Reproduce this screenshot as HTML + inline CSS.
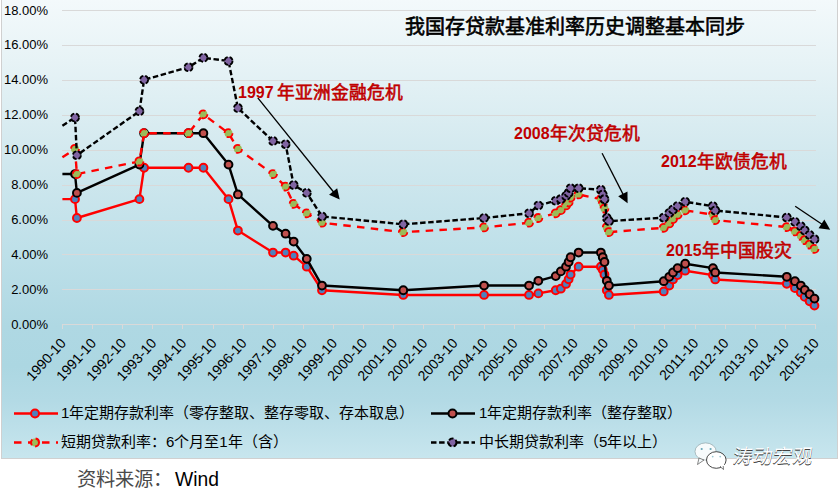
<!DOCTYPE html>
<html lang="zh-CN"><head><meta charset="utf-8">
<style>
html,body{margin:0;padding:0;width:839px;height:493px;overflow:hidden;background:#fff;}
body{position:relative;font-family:"Liberation Sans",sans-serif;}
#chart{position:absolute;left:1px;top:-20px;width:837px;height:479px;border:1px solid #d0d0d0;box-sizing:border-box;
 background:linear-gradient(to bottom,#f8fcfd 0px,#f3f9fb 20px,#e7f3f6 80px,#d3e9ef 170px,#bee0e9 270px,#afd8e3 345px,#acd7e2 385px,#b3dae5 420px,#c8e6ee 479px);}
svg{position:absolute;left:0;top:0;}
.g{stroke:#d9d9d9;stroke-width:1;}
.yl{position:absolute;right:791px;font-size:13px;line-height:16px;color:#000;white-space:nowrap;}
.xl{position:absolute;top:325px;font-size:13px;line-height:14px;color:#000;white-space:nowrap;transform-origin:100% 0;}
.title{position:absolute;left:405px;top:15px;font-size:20px;font-weight:normal;-webkit-text-stroke:0.6px #000;line-height:24px;color:#000;white-space:nowrap;}
.ann{position:absolute;color:#c00000;font-weight:bold;white-space:nowrap;line-height:20px;}
.ann .n{font-size:16px;position:relative;top:-1px;}
.ann .c{font-size:17.8px;margin-left:0.5px;font-weight:normal;-webkit-text-stroke:0.6px #c00000;}
.leg{position:absolute;font-size:15px;line-height:18px;color:#000;white-space:nowrap;}
.src{position:absolute;left:77px;top:468px;font-size:19.3px;line-height:24px;color:#4a4a4a;white-space:nowrap;}
.src b{font-weight:normal;color:#000;margin-left:3px;}
.wm{position:absolute;left:731px;top:445px;font-size:19.5px;line-height:22px;color:#fff;white-space:nowrap;transform:skewX(-9deg);transform-origin:0 100%;
 text-shadow:1px 1px 0 #444,0.5px 0.5px 0 #666;}
</style></head><body>
<div id="chart"></div>
<svg width="839" height="493" viewBox="0 0 839 493">
<line x1="62" y1="10.5" x2="816" y2="10.5" class="g"/>
<line x1="62" y1="45.5" x2="816" y2="45.5" class="g"/>
<line x1="62" y1="80.5" x2="816" y2="80.5" class="g"/>
<line x1="62" y1="115.5" x2="816" y2="115.5" class="g"/>
<line x1="62" y1="150.5" x2="816" y2="150.5" class="g"/>
<line x1="62" y1="185.5" x2="816" y2="185.5" class="g"/>
<line x1="62" y1="220.5" x2="816" y2="220.5" class="g"/>
<line x1="62" y1="254.5" x2="816" y2="254.5" class="g"/>
<line x1="62" y1="289.5" x2="816" y2="289.5" class="g"/>
<line x1="62" y1="324.5" x2="816" y2="324.5" class="g"/>
<line x1="62.5" y1="324.5" x2="62.5" y2="329" class="g"/>
<line x1="92.5" y1="324.5" x2="92.5" y2="329" class="g"/>
<line x1="122.5" y1="324.5" x2="122.5" y2="329" class="g"/>
<line x1="152.5" y1="324.5" x2="152.5" y2="329" class="g"/>
<line x1="182.5" y1="324.5" x2="182.5" y2="329" class="g"/>
<line x1="213.5" y1="324.5" x2="213.5" y2="329" class="g"/>
<line x1="243.5" y1="324.5" x2="243.5" y2="329" class="g"/>
<line x1="273.5" y1="324.5" x2="273.5" y2="329" class="g"/>
<line x1="303.5" y1="324.5" x2="303.5" y2="329" class="g"/>
<line x1="333.5" y1="324.5" x2="333.5" y2="329" class="g"/>
<line x1="363.5" y1="324.5" x2="363.5" y2="329" class="g"/>
<line x1="393.5" y1="324.5" x2="393.5" y2="329" class="g"/>
<line x1="423.5" y1="324.5" x2="423.5" y2="329" class="g"/>
<line x1="454.5" y1="324.5" x2="454.5" y2="329" class="g"/>
<line x1="484.5" y1="324.5" x2="484.5" y2="329" class="g"/>
<line x1="514.5" y1="324.5" x2="514.5" y2="329" class="g"/>
<line x1="544.5" y1="324.5" x2="544.5" y2="329" class="g"/>
<line x1="574.5" y1="324.5" x2="574.5" y2="329" class="g"/>
<line x1="604.5" y1="324.5" x2="604.5" y2="329" class="g"/>
<line x1="634.5" y1="324.5" x2="634.5" y2="329" class="g"/>
<line x1="664.5" y1="324.5" x2="664.5" y2="329" class="g"/>
<line x1="695.5" y1="324.5" x2="695.5" y2="329" class="g"/>
<line x1="725.5" y1="324.5" x2="725.5" y2="329" class="g"/>
<line x1="755.5" y1="324.5" x2="755.5" y2="329" class="g"/>
<line x1="785.5" y1="324.5" x2="785.5" y2="329" class="g"/>
<line x1="815.5" y1="324.5" x2="815.5" y2="329" class="g"/>
<path d="M62.4,199.16 L75,199.16 L76.9,218.01 L139.41,199.16 L144.11,167.75 L188.5,167.75 L203.4,167.75 L228.52,199.16 L237.91,230.57 L272.99,252.56 L285.59,252.56 L293.66,255.7 L306.76,266.69 L321.99,290.25 L403.28,294.96 L484.07,294.96 L529.03,294.96 L538.34,293.39 L555.72,290.25 L560.82,288.68 L566.01,283.97 L568.65,279.26 L570.62,274.54 L578.61,266.69 L600.85,266.69 L602.74,269.83 L604.47,274.54 L606.78,290.25 L608.92,294.96 L663.76,291.47 L669.28,285.54 L672.99,279.43 L677.6,275.07 L685.18,270.71 L712.93,275.07 L715.24,279.43 L786.8,283.79 L794.96,288.16 L800.8,292.52 L804.76,296.88 L809.61,301.24 L814.47,305.61" fill="none" stroke="#ff0000" stroke-width="2.4" stroke-linejoin="round"/>
<circle cx="75" cy="199.16" r="3.9" fill="#4f81bd" stroke="#ff0000" stroke-width="2.0"/>
<circle cx="76.9" cy="218.01" r="3.9" fill="#4f81bd" stroke="#ff0000" stroke-width="2.0"/>
<circle cx="139.41" cy="199.16" r="3.9" fill="#4f81bd" stroke="#ff0000" stroke-width="2.0"/>
<circle cx="144.11" cy="167.75" r="3.9" fill="#4f81bd" stroke="#ff0000" stroke-width="2.0"/>
<circle cx="188.5" cy="167.75" r="3.9" fill="#4f81bd" stroke="#ff0000" stroke-width="2.0"/>
<circle cx="203.4" cy="167.75" r="3.9" fill="#4f81bd" stroke="#ff0000" stroke-width="2.0"/>
<circle cx="228.52" cy="199.16" r="3.9" fill="#4f81bd" stroke="#ff0000" stroke-width="2.0"/>
<circle cx="237.91" cy="230.57" r="3.9" fill="#4f81bd" stroke="#ff0000" stroke-width="2.0"/>
<circle cx="272.99" cy="252.56" r="3.9" fill="#4f81bd" stroke="#ff0000" stroke-width="2.0"/>
<circle cx="285.59" cy="252.56" r="3.9" fill="#4f81bd" stroke="#ff0000" stroke-width="2.0"/>
<circle cx="293.66" cy="255.7" r="3.9" fill="#4f81bd" stroke="#ff0000" stroke-width="2.0"/>
<circle cx="306.76" cy="266.69" r="3.9" fill="#4f81bd" stroke="#ff0000" stroke-width="2.0"/>
<circle cx="321.99" cy="290.25" r="3.9" fill="#4f81bd" stroke="#ff0000" stroke-width="2.0"/>
<circle cx="403.28" cy="294.96" r="3.9" fill="#4f81bd" stroke="#ff0000" stroke-width="2.0"/>
<circle cx="484.07" cy="294.96" r="3.9" fill="#4f81bd" stroke="#ff0000" stroke-width="2.0"/>
<circle cx="529.03" cy="294.96" r="3.9" fill="#4f81bd" stroke="#ff0000" stroke-width="2.0"/>
<circle cx="538.34" cy="293.39" r="3.9" fill="#4f81bd" stroke="#ff0000" stroke-width="2.0"/>
<circle cx="555.72" cy="290.25" r="3.9" fill="#4f81bd" stroke="#ff0000" stroke-width="2.0"/>
<circle cx="560.82" cy="288.68" r="3.9" fill="#4f81bd" stroke="#ff0000" stroke-width="2.0"/>
<circle cx="566.01" cy="283.97" r="3.9" fill="#4f81bd" stroke="#ff0000" stroke-width="2.0"/>
<circle cx="568.65" cy="279.26" r="3.9" fill="#4f81bd" stroke="#ff0000" stroke-width="2.0"/>
<circle cx="570.62" cy="274.54" r="3.9" fill="#4f81bd" stroke="#ff0000" stroke-width="2.0"/>
<circle cx="578.61" cy="266.69" r="3.9" fill="#4f81bd" stroke="#ff0000" stroke-width="2.0"/>
<circle cx="600.85" cy="266.69" r="3.9" fill="#4f81bd" stroke="#ff0000" stroke-width="2.0"/>
<circle cx="602.74" cy="269.83" r="3.9" fill="#4f81bd" stroke="#ff0000" stroke-width="2.0"/>
<circle cx="604.47" cy="274.54" r="3.9" fill="#4f81bd" stroke="#ff0000" stroke-width="2.0"/>
<circle cx="606.78" cy="290.25" r="3.9" fill="#4f81bd" stroke="#ff0000" stroke-width="2.0"/>
<circle cx="608.92" cy="294.96" r="3.9" fill="#4f81bd" stroke="#ff0000" stroke-width="2.0"/>
<circle cx="663.76" cy="291.47" r="3.9" fill="#4f81bd" stroke="#ff0000" stroke-width="2.0"/>
<circle cx="669.28" cy="285.54" r="3.9" fill="#4f81bd" stroke="#ff0000" stroke-width="2.0"/>
<circle cx="672.99" cy="279.43" r="3.9" fill="#4f81bd" stroke="#ff0000" stroke-width="2.0"/>
<circle cx="677.6" cy="275.07" r="3.9" fill="#4f81bd" stroke="#ff0000" stroke-width="2.0"/>
<circle cx="685.18" cy="270.71" r="3.9" fill="#4f81bd" stroke="#ff0000" stroke-width="2.0"/>
<circle cx="712.93" cy="275.07" r="3.9" fill="#4f81bd" stroke="#ff0000" stroke-width="2.0"/>
<circle cx="715.24" cy="279.43" r="3.9" fill="#4f81bd" stroke="#ff0000" stroke-width="2.0"/>
<circle cx="786.8" cy="283.79" r="3.9" fill="#4f81bd" stroke="#ff0000" stroke-width="2.0"/>
<circle cx="794.96" cy="288.16" r="3.9" fill="#4f81bd" stroke="#ff0000" stroke-width="2.0"/>
<circle cx="800.8" cy="292.52" r="3.9" fill="#4f81bd" stroke="#ff0000" stroke-width="2.0"/>
<circle cx="804.76" cy="296.88" r="3.9" fill="#4f81bd" stroke="#ff0000" stroke-width="2.0"/>
<circle cx="809.61" cy="301.24" r="3.9" fill="#4f81bd" stroke="#ff0000" stroke-width="2.0"/>
<circle cx="814.47" cy="305.61" r="3.9" fill="#4f81bd" stroke="#ff0000" stroke-width="2.0"/>
<path d="M62.4,174.03 L75,174.03 L76.9,192.88 L139.41,164.61 L144.11,133.2 L188.5,133.2 L203.4,133.2 L228.52,164.61 L237.91,194.45 L272.99,225.86 L285.59,233.71 L293.66,241.56 L306.76,258.84 L321.99,285.54 L403.28,290.25 L484.07,285.54 L529.03,285.54 L538.34,280.83 L555.72,276.11 L560.82,271.4 L566.01,266.69 L568.65,261.98 L570.62,257.27 L578.61,252.56 L600.85,252.56 L602.74,257.27 L604.47,261.98 L606.78,280.83 L608.92,285.54 L663.76,281.18 L669.28,276.81 L672.99,272.45 L677.6,268.09 L685.18,263.73 L712.93,268.09 L715.24,272.45 L786.8,276.81 L794.96,281.18 L800.8,285.54 L804.76,289.9 L809.61,294.26 L814.47,298.62" fill="none" stroke="#000000" stroke-width="2.4" stroke-linejoin="round"/>
<circle cx="75" cy="174.03" r="3.9" fill="#c0504d" stroke="#000000" stroke-width="2.0"/>
<circle cx="76.9" cy="192.88" r="3.9" fill="#c0504d" stroke="#000000" stroke-width="2.0"/>
<circle cx="139.41" cy="164.61" r="3.9" fill="#c0504d" stroke="#000000" stroke-width="2.0"/>
<circle cx="144.11" cy="133.2" r="3.9" fill="#c0504d" stroke="#000000" stroke-width="2.0"/>
<circle cx="188.5" cy="133.2" r="3.9" fill="#c0504d" stroke="#000000" stroke-width="2.0"/>
<circle cx="203.4" cy="133.2" r="3.9" fill="#c0504d" stroke="#000000" stroke-width="2.0"/>
<circle cx="228.52" cy="164.61" r="3.9" fill="#c0504d" stroke="#000000" stroke-width="2.0"/>
<circle cx="237.91" cy="194.45" r="3.9" fill="#c0504d" stroke="#000000" stroke-width="2.0"/>
<circle cx="272.99" cy="225.86" r="3.9" fill="#c0504d" stroke="#000000" stroke-width="2.0"/>
<circle cx="285.59" cy="233.71" r="3.9" fill="#c0504d" stroke="#000000" stroke-width="2.0"/>
<circle cx="293.66" cy="241.56" r="3.9" fill="#c0504d" stroke="#000000" stroke-width="2.0"/>
<circle cx="306.76" cy="258.84" r="3.9" fill="#c0504d" stroke="#000000" stroke-width="2.0"/>
<circle cx="321.99" cy="285.54" r="3.9" fill="#c0504d" stroke="#000000" stroke-width="2.0"/>
<circle cx="403.28" cy="290.25" r="3.9" fill="#c0504d" stroke="#000000" stroke-width="2.0"/>
<circle cx="484.07" cy="285.54" r="3.9" fill="#c0504d" stroke="#000000" stroke-width="2.0"/>
<circle cx="529.03" cy="285.54" r="3.9" fill="#c0504d" stroke="#000000" stroke-width="2.0"/>
<circle cx="538.34" cy="280.83" r="3.9" fill="#c0504d" stroke="#000000" stroke-width="2.0"/>
<circle cx="555.72" cy="276.11" r="3.9" fill="#c0504d" stroke="#000000" stroke-width="2.0"/>
<circle cx="560.82" cy="271.4" r="3.9" fill="#c0504d" stroke="#000000" stroke-width="2.0"/>
<circle cx="566.01" cy="266.69" r="3.9" fill="#c0504d" stroke="#000000" stroke-width="2.0"/>
<circle cx="568.65" cy="261.98" r="3.9" fill="#c0504d" stroke="#000000" stroke-width="2.0"/>
<circle cx="570.62" cy="257.27" r="3.9" fill="#c0504d" stroke="#000000" stroke-width="2.0"/>
<circle cx="578.61" cy="252.56" r="3.9" fill="#c0504d" stroke="#000000" stroke-width="2.0"/>
<circle cx="600.85" cy="252.56" r="3.9" fill="#c0504d" stroke="#000000" stroke-width="2.0"/>
<circle cx="602.74" cy="257.27" r="3.9" fill="#c0504d" stroke="#000000" stroke-width="2.0"/>
<circle cx="604.47" cy="261.98" r="3.9" fill="#c0504d" stroke="#000000" stroke-width="2.0"/>
<circle cx="606.78" cy="280.83" r="3.9" fill="#c0504d" stroke="#000000" stroke-width="2.0"/>
<circle cx="608.92" cy="285.54" r="3.9" fill="#c0504d" stroke="#000000" stroke-width="2.0"/>
<circle cx="663.76" cy="281.18" r="3.9" fill="#c0504d" stroke="#000000" stroke-width="2.0"/>
<circle cx="669.28" cy="276.81" r="3.9" fill="#c0504d" stroke="#000000" stroke-width="2.0"/>
<circle cx="672.99" cy="272.45" r="3.9" fill="#c0504d" stroke="#000000" stroke-width="2.0"/>
<circle cx="677.6" cy="268.09" r="3.9" fill="#c0504d" stroke="#000000" stroke-width="2.0"/>
<circle cx="685.18" cy="263.73" r="3.9" fill="#c0504d" stroke="#000000" stroke-width="2.0"/>
<circle cx="712.93" cy="268.09" r="3.9" fill="#c0504d" stroke="#000000" stroke-width="2.0"/>
<circle cx="715.24" cy="272.45" r="3.9" fill="#c0504d" stroke="#000000" stroke-width="2.0"/>
<circle cx="786.8" cy="276.81" r="3.9" fill="#c0504d" stroke="#000000" stroke-width="2.0"/>
<circle cx="794.96" cy="281.18" r="3.9" fill="#c0504d" stroke="#000000" stroke-width="2.0"/>
<circle cx="800.8" cy="285.54" r="3.9" fill="#c0504d" stroke="#000000" stroke-width="2.0"/>
<circle cx="804.76" cy="289.9" r="3.9" fill="#c0504d" stroke="#000000" stroke-width="2.0"/>
<circle cx="809.61" cy="294.26" r="3.9" fill="#c0504d" stroke="#000000" stroke-width="2.0"/>
<circle cx="814.47" cy="298.62" r="3.9" fill="#c0504d" stroke="#000000" stroke-width="2.0"/>
<path d="M62.4,157.3 L75,148.9 L76.9,174.03 L139.41,161.47 L144.11,133.2 L188.5,133.2 L203.4,114.35 L228.52,133.2 L237.91,148.9 L272.99,174.03 L285.59,186.6 L293.66,203.87 L306.76,213.29 L321.99,222.72 L403.28,232.14 L484.07,227.43 L529.03,222.72 L538.34,218.01 L555.72,213.29 L560.82,210.15 L566.01,205.44 L568.65,202.3 L570.62,197.59 L578.61,194.45 L600.85,199.16 L602.74,203.87 L604.47,208.58 L606.78,227.43 L608.92,232.14 L663.76,227.78 L669.28,223.42 L672.99,219.05 L677.6,214.69 L685.18,210.33 L712.93,214.69 L715.24,220.1 L786.8,227.08 L794.96,231.44 L800.8,235.81 L804.76,240.17 L809.61,244.53 L814.47,248.89" fill="none" stroke="#ff0000" stroke-width="2.4" stroke-linejoin="round" stroke-dasharray="7.5 6.3"/>
<circle cx="75" cy="148.9" r="4.0" fill="#9bbb59" stroke="#ff0000" stroke-width="1.8" stroke-dasharray="8 4.5"/>
<circle cx="76.9" cy="174.03" r="4.0" fill="#9bbb59" stroke="#ff0000" stroke-width="1.8" stroke-dasharray="8 4.5"/>
<circle cx="139.41" cy="161.47" r="4.0" fill="#9bbb59" stroke="#ff0000" stroke-width="1.8" stroke-dasharray="8 4.5"/>
<circle cx="144.11" cy="133.2" r="4.0" fill="#9bbb59" stroke="#ff0000" stroke-width="1.8" stroke-dasharray="8 4.5"/>
<circle cx="188.5" cy="133.2" r="4.0" fill="#9bbb59" stroke="#ff0000" stroke-width="1.8" stroke-dasharray="8 4.5"/>
<circle cx="203.4" cy="114.35" r="4.0" fill="#9bbb59" stroke="#ff0000" stroke-width="1.8" stroke-dasharray="8 4.5"/>
<circle cx="228.52" cy="133.2" r="4.0" fill="#9bbb59" stroke="#ff0000" stroke-width="1.8" stroke-dasharray="8 4.5"/>
<circle cx="237.91" cy="148.9" r="4.0" fill="#9bbb59" stroke="#ff0000" stroke-width="1.8" stroke-dasharray="8 4.5"/>
<circle cx="272.99" cy="174.03" r="4.0" fill="#9bbb59" stroke="#ff0000" stroke-width="1.8" stroke-dasharray="8 4.5"/>
<circle cx="285.59" cy="186.6" r="4.0" fill="#9bbb59" stroke="#ff0000" stroke-width="1.8" stroke-dasharray="8 4.5"/>
<circle cx="293.66" cy="203.87" r="4.0" fill="#9bbb59" stroke="#ff0000" stroke-width="1.8" stroke-dasharray="8 4.5"/>
<circle cx="306.76" cy="213.29" r="4.0" fill="#9bbb59" stroke="#ff0000" stroke-width="1.8" stroke-dasharray="8 4.5"/>
<circle cx="321.99" cy="222.72" r="4.0" fill="#9bbb59" stroke="#ff0000" stroke-width="1.8" stroke-dasharray="8 4.5"/>
<circle cx="403.28" cy="232.14" r="4.0" fill="#9bbb59" stroke="#ff0000" stroke-width="1.8" stroke-dasharray="8 4.5"/>
<circle cx="484.07" cy="227.43" r="4.0" fill="#9bbb59" stroke="#ff0000" stroke-width="1.8" stroke-dasharray="8 4.5"/>
<circle cx="529.03" cy="222.72" r="4.0" fill="#9bbb59" stroke="#ff0000" stroke-width="1.8" stroke-dasharray="8 4.5"/>
<circle cx="538.34" cy="218.01" r="4.0" fill="#9bbb59" stroke="#ff0000" stroke-width="1.8" stroke-dasharray="8 4.5"/>
<circle cx="555.72" cy="213.29" r="4.0" fill="#9bbb59" stroke="#ff0000" stroke-width="1.8" stroke-dasharray="8 4.5"/>
<circle cx="560.82" cy="210.15" r="4.0" fill="#9bbb59" stroke="#ff0000" stroke-width="1.8" stroke-dasharray="8 4.5"/>
<circle cx="566.01" cy="205.44" r="4.0" fill="#9bbb59" stroke="#ff0000" stroke-width="1.8" stroke-dasharray="8 4.5"/>
<circle cx="568.65" cy="202.3" r="4.0" fill="#9bbb59" stroke="#ff0000" stroke-width="1.8" stroke-dasharray="8 4.5"/>
<circle cx="570.62" cy="197.59" r="4.0" fill="#9bbb59" stroke="#ff0000" stroke-width="1.8" stroke-dasharray="8 4.5"/>
<circle cx="578.61" cy="194.45" r="4.0" fill="#9bbb59" stroke="#ff0000" stroke-width="1.8" stroke-dasharray="8 4.5"/>
<circle cx="600.85" cy="199.16" r="4.0" fill="#9bbb59" stroke="#ff0000" stroke-width="1.8" stroke-dasharray="8 4.5"/>
<circle cx="602.74" cy="203.87" r="4.0" fill="#9bbb59" stroke="#ff0000" stroke-width="1.8" stroke-dasharray="8 4.5"/>
<circle cx="604.47" cy="208.58" r="4.0" fill="#9bbb59" stroke="#ff0000" stroke-width="1.8" stroke-dasharray="8 4.5"/>
<circle cx="606.78" cy="227.43" r="4.0" fill="#9bbb59" stroke="#ff0000" stroke-width="1.8" stroke-dasharray="8 4.5"/>
<circle cx="608.92" cy="232.14" r="4.0" fill="#9bbb59" stroke="#ff0000" stroke-width="1.8" stroke-dasharray="8 4.5"/>
<circle cx="663.76" cy="227.78" r="4.0" fill="#9bbb59" stroke="#ff0000" stroke-width="1.8" stroke-dasharray="8 4.5"/>
<circle cx="669.28" cy="223.42" r="4.0" fill="#9bbb59" stroke="#ff0000" stroke-width="1.8" stroke-dasharray="8 4.5"/>
<circle cx="672.99" cy="219.05" r="4.0" fill="#9bbb59" stroke="#ff0000" stroke-width="1.8" stroke-dasharray="8 4.5"/>
<circle cx="677.6" cy="214.69" r="4.0" fill="#9bbb59" stroke="#ff0000" stroke-width="1.8" stroke-dasharray="8 4.5"/>
<circle cx="685.18" cy="210.33" r="4.0" fill="#9bbb59" stroke="#ff0000" stroke-width="1.8" stroke-dasharray="8 4.5"/>
<circle cx="712.93" cy="214.69" r="4.0" fill="#9bbb59" stroke="#ff0000" stroke-width="1.8" stroke-dasharray="8 4.5"/>
<circle cx="715.24" cy="220.1" r="4.0" fill="#9bbb59" stroke="#ff0000" stroke-width="1.8" stroke-dasharray="8 4.5"/>
<circle cx="786.8" cy="227.08" r="4.0" fill="#9bbb59" stroke="#ff0000" stroke-width="1.8" stroke-dasharray="8 4.5"/>
<circle cx="794.96" cy="231.44" r="4.0" fill="#9bbb59" stroke="#ff0000" stroke-width="1.8" stroke-dasharray="8 4.5"/>
<circle cx="800.8" cy="235.81" r="4.0" fill="#9bbb59" stroke="#ff0000" stroke-width="1.8" stroke-dasharray="8 4.5"/>
<circle cx="804.76" cy="240.17" r="4.0" fill="#9bbb59" stroke="#ff0000" stroke-width="1.8" stroke-dasharray="8 4.5"/>
<circle cx="809.61" cy="244.53" r="4.0" fill="#9bbb59" stroke="#ff0000" stroke-width="1.8" stroke-dasharray="8 4.5"/>
<circle cx="814.47" cy="248.89" r="4.0" fill="#9bbb59" stroke="#ff0000" stroke-width="1.8" stroke-dasharray="8 4.5"/>
<path d="M62.4,125.7 L75,117.49 L76.9,155.19 L139.41,111.21 L144.11,79.8 L188.5,67.24 L203.4,57.81 L228.52,60.96 L237.91,108.07 L272.99,141.05 L285.59,144.19 L293.66,185.03 L306.76,192.88 L321.99,216.44 L403.28,224.29 L484.07,218.01 L529.03,213.29 L538.34,205.44 L555.72,200.73 L560.82,199.16 L566.01,196.02 L568.65,192.88 L570.62,188.17 L578.61,188.17 L600.85,189.74 L602.74,194.45 L604.47,199.16 L606.78,218.01 L608.92,221.15 L663.76,217.66 L669.28,213.12 L672.99,209.63 L677.6,206.14 L685.18,201.78 L712.93,206.14 L715.24,210.5 L786.8,217.48 L794.96,221.85 L800.8,226.21 L804.76,230.57 L809.61,234.93 L814.47,239.3" fill="none" stroke="#000000" stroke-width="2.4" stroke-linejoin="round" stroke-dasharray="5.5 2.6"/>
<circle cx="75" cy="117.49" r="4.0" fill="#8064a2" stroke="#000000" stroke-width="1.8" stroke-dasharray="4.5 2"/>
<circle cx="76.9" cy="155.19" r="4.0" fill="#8064a2" stroke="#000000" stroke-width="1.8" stroke-dasharray="4.5 2"/>
<circle cx="139.41" cy="111.21" r="4.0" fill="#8064a2" stroke="#000000" stroke-width="1.8" stroke-dasharray="4.5 2"/>
<circle cx="144.11" cy="79.8" r="4.0" fill="#8064a2" stroke="#000000" stroke-width="1.8" stroke-dasharray="4.5 2"/>
<circle cx="188.5" cy="67.24" r="4.0" fill="#8064a2" stroke="#000000" stroke-width="1.8" stroke-dasharray="4.5 2"/>
<circle cx="203.4" cy="57.81" r="4.0" fill="#8064a2" stroke="#000000" stroke-width="1.8" stroke-dasharray="4.5 2"/>
<circle cx="228.52" cy="60.96" r="4.0" fill="#8064a2" stroke="#000000" stroke-width="1.8" stroke-dasharray="4.5 2"/>
<circle cx="237.91" cy="108.07" r="4.0" fill="#8064a2" stroke="#000000" stroke-width="1.8" stroke-dasharray="4.5 2"/>
<circle cx="272.99" cy="141.05" r="4.0" fill="#8064a2" stroke="#000000" stroke-width="1.8" stroke-dasharray="4.5 2"/>
<circle cx="285.59" cy="144.19" r="4.0" fill="#8064a2" stroke="#000000" stroke-width="1.8" stroke-dasharray="4.5 2"/>
<circle cx="293.66" cy="185.03" r="4.0" fill="#8064a2" stroke="#000000" stroke-width="1.8" stroke-dasharray="4.5 2"/>
<circle cx="306.76" cy="192.88" r="4.0" fill="#8064a2" stroke="#000000" stroke-width="1.8" stroke-dasharray="4.5 2"/>
<circle cx="321.99" cy="216.44" r="4.0" fill="#8064a2" stroke="#000000" stroke-width="1.8" stroke-dasharray="4.5 2"/>
<circle cx="403.28" cy="224.29" r="4.0" fill="#8064a2" stroke="#000000" stroke-width="1.8" stroke-dasharray="4.5 2"/>
<circle cx="484.07" cy="218.01" r="4.0" fill="#8064a2" stroke="#000000" stroke-width="1.8" stroke-dasharray="4.5 2"/>
<circle cx="529.03" cy="213.29" r="4.0" fill="#8064a2" stroke="#000000" stroke-width="1.8" stroke-dasharray="4.5 2"/>
<circle cx="538.34" cy="205.44" r="4.0" fill="#8064a2" stroke="#000000" stroke-width="1.8" stroke-dasharray="4.5 2"/>
<circle cx="555.72" cy="200.73" r="4.0" fill="#8064a2" stroke="#000000" stroke-width="1.8" stroke-dasharray="4.5 2"/>
<circle cx="560.82" cy="199.16" r="4.0" fill="#8064a2" stroke="#000000" stroke-width="1.8" stroke-dasharray="4.5 2"/>
<circle cx="566.01" cy="196.02" r="4.0" fill="#8064a2" stroke="#000000" stroke-width="1.8" stroke-dasharray="4.5 2"/>
<circle cx="568.65" cy="192.88" r="4.0" fill="#8064a2" stroke="#000000" stroke-width="1.8" stroke-dasharray="4.5 2"/>
<circle cx="570.62" cy="188.17" r="4.0" fill="#8064a2" stroke="#000000" stroke-width="1.8" stroke-dasharray="4.5 2"/>
<circle cx="578.61" cy="188.17" r="4.0" fill="#8064a2" stroke="#000000" stroke-width="1.8" stroke-dasharray="4.5 2"/>
<circle cx="600.85" cy="189.74" r="4.0" fill="#8064a2" stroke="#000000" stroke-width="1.8" stroke-dasharray="4.5 2"/>
<circle cx="602.74" cy="194.45" r="4.0" fill="#8064a2" stroke="#000000" stroke-width="1.8" stroke-dasharray="4.5 2"/>
<circle cx="604.47" cy="199.16" r="4.0" fill="#8064a2" stroke="#000000" stroke-width="1.8" stroke-dasharray="4.5 2"/>
<circle cx="606.78" cy="218.01" r="4.0" fill="#8064a2" stroke="#000000" stroke-width="1.8" stroke-dasharray="4.5 2"/>
<circle cx="608.92" cy="221.15" r="4.0" fill="#8064a2" stroke="#000000" stroke-width="1.8" stroke-dasharray="4.5 2"/>
<circle cx="663.76" cy="217.66" r="4.0" fill="#8064a2" stroke="#000000" stroke-width="1.8" stroke-dasharray="4.5 2"/>
<circle cx="669.28" cy="213.12" r="4.0" fill="#8064a2" stroke="#000000" stroke-width="1.8" stroke-dasharray="4.5 2"/>
<circle cx="672.99" cy="209.63" r="4.0" fill="#8064a2" stroke="#000000" stroke-width="1.8" stroke-dasharray="4.5 2"/>
<circle cx="677.6" cy="206.14" r="4.0" fill="#8064a2" stroke="#000000" stroke-width="1.8" stroke-dasharray="4.5 2"/>
<circle cx="685.18" cy="201.78" r="4.0" fill="#8064a2" stroke="#000000" stroke-width="1.8" stroke-dasharray="4.5 2"/>
<circle cx="712.93" cy="206.14" r="4.0" fill="#8064a2" stroke="#000000" stroke-width="1.8" stroke-dasharray="4.5 2"/>
<circle cx="715.24" cy="210.5" r="4.0" fill="#8064a2" stroke="#000000" stroke-width="1.8" stroke-dasharray="4.5 2"/>
<circle cx="786.8" cy="217.48" r="4.0" fill="#8064a2" stroke="#000000" stroke-width="1.8" stroke-dasharray="4.5 2"/>
<circle cx="794.96" cy="221.85" r="4.0" fill="#8064a2" stroke="#000000" stroke-width="1.8" stroke-dasharray="4.5 2"/>
<circle cx="800.8" cy="226.21" r="4.0" fill="#8064a2" stroke="#000000" stroke-width="1.8" stroke-dasharray="4.5 2"/>
<circle cx="804.76" cy="230.57" r="4.0" fill="#8064a2" stroke="#000000" stroke-width="1.8" stroke-dasharray="4.5 2"/>
<circle cx="809.61" cy="234.93" r="4.0" fill="#8064a2" stroke="#000000" stroke-width="1.8" stroke-dasharray="4.5 2"/>
<circle cx="814.47" cy="239.3" r="4.0" fill="#8064a2" stroke="#000000" stroke-width="1.8" stroke-dasharray="4.5 2"/>
<line x1="257.8" y1="97.8" x2="334.37" y2="192.98" stroke="#000" stroke-width="1.3"/>
<polygon points="339.7,199.6 329.07,194.68 337.17,188.16" fill="#000"/>
<line x1="602.1" y1="153.2" x2="623.74" y2="195.63" stroke="#000" stroke-width="1.3"/>
<polygon points="627.6,203.2 618.2,196.21 627.46,191.48" fill="#000"/>
<line x1="795.2" y1="206.3" x2="823.13" y2="224.98" stroke="#000" stroke-width="1.3"/>
<polygon points="830.2,229.7 818.58,228.19 824.36,219.54" fill="#000"/>

<line x1="14" y1="413.5" x2="58" y2="413.5" stroke="#ff0000" stroke-width="2.5"/>
<circle cx="35" cy="413.5" r="4.0" fill="#4f81bd" stroke="#ff0000" stroke-width="2"/>
<line x1="431" y1="413.5" x2="475" y2="413.5" stroke="#000" stroke-width="2.5"/>
<circle cx="452.5" cy="413.5" r="4.0" fill="#c0504d" stroke="#000" stroke-width="2"/>
<line x1="14" y1="442.5" x2="58" y2="442.5" stroke="#ff0000" stroke-width="2.5" stroke-dasharray="7.5 6.5"/>
<circle cx="35" cy="442.5" r="4.0" fill="#9bbb59" stroke="#ff0000" stroke-width="2" stroke-dasharray="6 3.5"/>
<line x1="431" y1="442.5" x2="475" y2="442.5" stroke="#000" stroke-width="2.5" stroke-dasharray="5.5 2.6"/>
<circle cx="452.5" cy="442.5" r="4.0" fill="#8064a2" stroke="#000" stroke-width="2" stroke-dasharray="5 2.2"/>

</svg>
<div class="yl" style="top:316.5px">0.00%</div>
<div class="yl" style="top:281.6px">2.00%</div>
<div class="yl" style="top:246.7px">4.00%</div>
<div class="yl" style="top:211.8px">6.00%</div>
<div class="yl" style="top:176.9px">8.00%</div>
<div class="yl" style="top:142.1px">10.00%</div>
<div class="yl" style="top:107.2px">12.00%</div>
<div class="yl" style="top:72.3px">14.00%</div>
<div class="yl" style="top:37.4px">16.00%</div>
<div class="yl" style="top:2.5px">18.00%</div>
<svg width="839" height="493" style="position:absolute;left:0;top:0"><g font-family="Liberation Sans" font-size="14" fill="#000"><text x="66.8" y="343.6" text-anchor="end" transform="rotate(-48 66.8 343.6)">1990-10</text>
<text x="96.9" y="343.6" text-anchor="end" transform="rotate(-48 96.9 343.6)">1991-10</text>
<text x="127.0" y="343.6" text-anchor="end" transform="rotate(-48 127.0 343.6)">1992-10</text>
<text x="157.2" y="343.6" text-anchor="end" transform="rotate(-48 157.2 343.6)">1993-10</text>
<text x="187.3" y="343.6" text-anchor="end" transform="rotate(-48 187.3 343.6)">1994-10</text>
<text x="217.4" y="343.6" text-anchor="end" transform="rotate(-48 217.4 343.6)">1995-10</text>
<text x="247.5" y="343.6" text-anchor="end" transform="rotate(-48 247.5 343.6)">1996-10</text>
<text x="277.6" y="343.6" text-anchor="end" transform="rotate(-48 277.6 343.6)">1997-10</text>
<text x="307.8" y="343.6" text-anchor="end" transform="rotate(-48 307.8 343.6)">1998-10</text>
<text x="337.9" y="343.6" text-anchor="end" transform="rotate(-48 337.9 343.6)">1999-10</text>
<text x="368.0" y="343.6" text-anchor="end" transform="rotate(-48 368.0 343.6)">2000-10</text>
<text x="398.1" y="343.6" text-anchor="end" transform="rotate(-48 398.1 343.6)">2001-10</text>
<text x="428.2" y="343.6" text-anchor="end" transform="rotate(-48 428.2 343.6)">2002-10</text>
<text x="458.4" y="343.6" text-anchor="end" transform="rotate(-48 458.4 343.6)">2003-10</text>
<text x="488.5" y="343.6" text-anchor="end" transform="rotate(-48 488.5 343.6)">2004-10</text>
<text x="518.6" y="343.6" text-anchor="end" transform="rotate(-48 518.6 343.6)">2005-10</text>
<text x="548.7" y="343.6" text-anchor="end" transform="rotate(-48 548.7 343.6)">2006-10</text>
<text x="578.8" y="343.6" text-anchor="end" transform="rotate(-48 578.8 343.6)">2007-10</text>
<text x="609.0" y="343.6" text-anchor="end" transform="rotate(-48 609.0 343.6)">2008-10</text>
<text x="639.1" y="343.6" text-anchor="end" transform="rotate(-48 639.1 343.6)">2009-10</text>
<text x="669.2" y="343.6" text-anchor="end" transform="rotate(-48 669.2 343.6)">2010-10</text>
<text x="699.3" y="343.6" text-anchor="end" transform="rotate(-48 699.3 343.6)">2011-10</text>
<text x="729.4" y="343.6" text-anchor="end" transform="rotate(-48 729.4 343.6)">2012-10</text>
<text x="759.6" y="343.6" text-anchor="end" transform="rotate(-48 759.6 343.6)">2013-10</text>
<text x="789.7" y="343.6" text-anchor="end" transform="rotate(-48 789.7 343.6)">2014-10</text>
<text x="819.8" y="343.6" text-anchor="end" transform="rotate(-48 819.8 343.6)">2015-10</text></g></svg>
<div class="title">我国存贷款基准利率历史调整基本同步</div>
<div class="ann" style="left:238px;top:83px"><span class="n">1997</span><span class="c" style="margin-left:3.5px">年亚洲金融危机</span></div>
<div class="ann" style="left:514px;top:124px"><span class="n">2008</span><span class="c">年次贷危机</span></div>
<div class="ann" style="left:661px;top:152px"><span class="n">2012</span><span class="c">年欧债危机</span></div>
<div class="ann" style="left:666px;top:241px"><span class="n">2015</span><span class="c">年中国股灾</span></div>
<div class="leg" style="left:61px;top:404px">1年定期存款利率（零存整取、整存零取、存本取息）</div>
<div class="leg" style="left:479px;top:404px">1年定期存款利率（整存整取）</div>
<div class="leg" style="left:61px;top:433px">短期贷款利率：6个月至1年（含）</div>
<div class="leg" style="left:479px;top:433px">中长期贷款利率（5年以上）</div>
<div class="src">资料来源：<b>Wind</b></div>
<div class="wm">涛动宏观</div>
<svg width="839" height="493" style="position:absolute;left:0;top:0">
<ellipse cx="705.6" cy="451.5" rx="10.6" ry="8.6" fill="#f7fbfc" stroke="#8a9a9e" stroke-width="0.6"/>
<path d="M699,458 L697.5,464.5 L704,460 Z" fill="#f7fbfc" stroke="#555" stroke-width="0.7"/>
<ellipse cx="716.3" cy="460" rx="9.8" ry="8.3" fill="#ffffff" stroke="#333" stroke-width="0.9"/>
<path d="M720,466.5 L723.5,469.5 L723,464 Z" fill="#fff" stroke="#444" stroke-width="0.7"/>
<rect x="715" y="463" width="9" height="3" fill="#fff"/>
<circle cx="701.7" cy="449" r="1.1" fill="#6aa7b8"/>
<circle cx="710.6" cy="449" r="1.1" fill="#6aa7b8"/>
<circle cx="712.7" cy="456.6" r="0.9" fill="#9cc9d6"/>
<circle cx="720.2" cy="456.6" r="0.9" fill="#9cc9d6"/>
</svg>

</body></html>
